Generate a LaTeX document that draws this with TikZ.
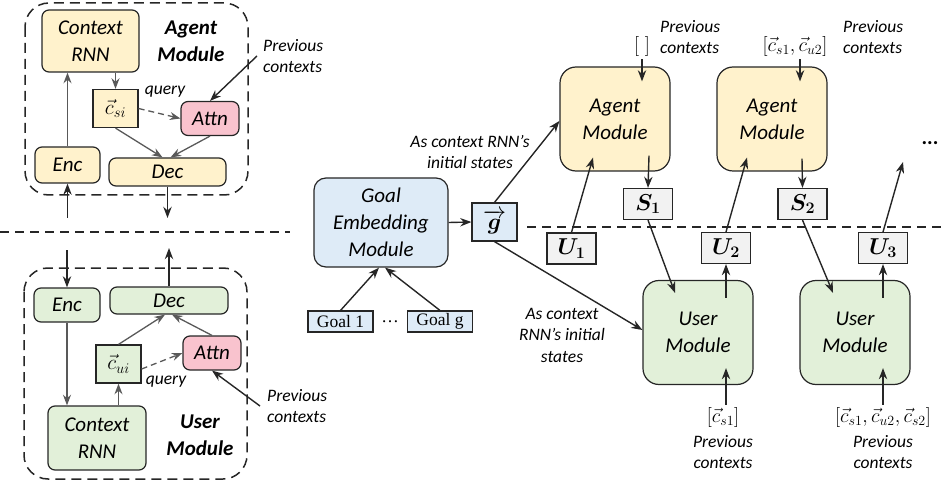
\RequirePackage{fix-cm}
\documentclass[tikz,border=0pt]{standalone}
\usepackage{amsmath,amssymb}
\usepackage{bm}
\usepackage{fontspec}
\setmainfont{Carlito}
\newfontfamily\goalfont{Liberation Serif}
\usetikzlibrary{positioning, calc, arrows.meta}

\definecolor{agentfill}{HTML}{FFF2CC}
\definecolor{userfill}{HTML}{E2F0D9}
\definecolor{goalfill}{HTML}{DEEBF7}
\definecolor{attnfill}{HTML}{F9C3CE}
\definecolor{turnfill}{HTML}{F2F2F2}
\definecolor{lineclr}{HTML}{262626}
\definecolor{innerclr}{HTML}{595959}

\newcommand{\modfont}{\fontsize{21}{27}\selectfont}
\newcommand{\turnfont}{\fontsize{23}{27}\selectfont}
\newcommand{\notefont}{\fontsize{17.5}{21.5}\selectfont}
\newcommand{\ctxfont}{\fontsize{20}{24}\selectfont}

\begin{document}
\begin{tikzpicture}[
    x=1pt, y=-1pt,
    >={Stealth[scale=1.2]},
    box/.style={draw=lineclr, line width=1.2pt, rounded corners=7pt, inner sep=0pt, font=\modfont\itshape, align=center},
    agentpart/.style={box, fill=agentfill},
    userpart/.style={box, fill=userfill},
    attnpart/.style={box, fill=attnfill, minimum width=58pt, minimum height=34pt},
    module/.style={box, rounded corners=16pt, minimum width=110pt, minimum height=104pt},
    vecbox/.style={draw=lineclr, line width=1.2pt, inner sep=0pt, minimum width=45pt, minimum height=38pt},
    turn/.style={vecbox, fill=turnfill, minimum width=49pt, minimum height=31pt, font=\turnfont},
    goalbox/.style={draw=lineclr, line width=1.1pt, fill=goalfill, inner sep=0pt, minimum width=65pt, minimum height=21pt, font=\goalfont\notefont},
    container/.style={draw=lineclr, line width=1.5pt, dash pattern=on 10pt off 6pt, rounded corners=24pt},
    divider/.style={draw=lineclr, line width=1.5pt, dash pattern=on 9pt off 6pt},
    inner/.style={->, draw=innerclr, line width=1.3pt},
    query/.style={dash pattern=on 6pt off 4pt},
    flow/.style={->, draw=lineclr, line width=1.4pt},
    note/.style={font=\notefont\itshape, align=center, inner sep=0pt},
    label/.style={font=\modfont\bfseries\itshape, align=center, inner sep=0pt},
    ctxnote/.style={font=\ctxfont, inner sep=2pt}
]
\useasboundingbox (0,0) rectangle (944,486);

% dashed separators
\draw[divider] (0,232) -- (290,232);
\draw[divider] (527,227) -- (944,227);

% agent module, inside
\draw[container] (25,3) rectangle (248,195);
\node[agentpart, minimum width=97pt, minimum height=62pt] (ctxA) at (90.5,41) {Context\\RNN};
\node[label] (agentLbl) at (191,41) {Agent\\Module};
\node[vecbox, fill=agentfill] (csi) at (115.5,108.5) {\modfont$\vec{c}_{si}$};
\node[note] (queryA) at (165,92) {query};
\node[attnpart] (attnA) at (210,118.5) {Attn};
\node[agentpart, minimum width=65pt, minimum height=36pt] (encA) at (67.5,165) {Enc};
\node[agentpart, minimum width=117pt, minimum height=28pt] (decA) at (167.5,172) {Dec};
\node[note, align=left, anchor=west] (prevA) at (263,56) {Previous\\contexts};
\coordinate (inA) at (67.5,218);
\coordinate (outA) at (167.5,218);

\draw[inner] (encA.north) -- (encA.north |- ctxA.south);
\draw[inner] (csi.north |- ctxA.south) -- (csi.north);
\draw[inner, query] (csi.east) -- (attnA.west);
\draw[inner] (csi.south) -- ([xshift=-5pt]decA.north);
\draw[inner] (attnA.south) -- ([xshift=3pt]decA.north);
\draw[flow] ([xshift=-6pt]prevA.west) -- (attnA.north);
\draw[flow] (inA) -- (encA.south);
\draw[flow] (decA.south) -- (outA);

% user module, inside
\draw[container] (24,268) rectangle (247,479);
\node[userpart, minimum width=66pt, minimum height=34pt] (encU) at (67,305) {Enc};
\node[userpart, minimum width=118pt, minimum height=27pt] (decU) at (169,300.5) {Dec};
\node[vecbox, fill=userfill] (cui) at (118.5,364) {\modfont$\vec{c}_{ui}$};
\node[note] (queryU) at (166,382) {query};
\node[attnpart] (attnU) at (212,353) {Attn};
\node[userpart, minimum width=98pt, minimum height=64pt] (ctxU) at (97,438) {Context\\RNN};
\node[label] (userLbl) at (200,435) {User\\Module};
\node[note, align=left, anchor=west] (prevU) at (267,406) {Previous\\contexts};
\coordinate (inU) at (67,250);
\coordinate (outU) at (169,248);

\draw[flow] (inU) -- (encU.north);
\draw[flow] (decU.north) -- (outU);
\draw[inner] (encU.south) -- (encU.south |- ctxU.north);
\draw[inner] (cui.south |- ctxU.north) -- (cui.south);
\draw[inner] (cui.north) -- ([xshift=-4pt]decU.south);
\draw[inner] (attnU.north) -- ([xshift=3pt]decU.south);
\draw[inner, query] ([yshift=-5pt]cui.east) -- (attnU.west);
\draw[flow] ([xshift=-7pt]prevU.west) -- (attnU.south);

% goal embedding
\node[box, fill=goalfill, rounded corners=12pt, minimum width=134pt, minimum height=89pt] (goalEmb) at (381,222.5) {Goal\\Embedding\\Module};
\node[vecbox, fill=goalfill] (gvec) at (494.5,222) {\turnfont$\overrightarrow{\bm{g}}$};
\node[goalbox] (goal1) at (340.5,321.5) {Goal 1};
\node[goalbox] (goalg) at (440,321.5) {Goal g};
\node[font=\goalfont\notefont] (gdots) at (390,322) {\dots};
\node[note] (asA) at (470,152) {As context RNN's\\initial states};
\node[note] (asU) at (562,335) {As context\\RNN's initial\\states};

\draw[flow] (goalEmb.east) -- (gvec.west);
\draw[flow] (goal1.north) -- ([xshift=-2pt]goalEmb.south);
\draw[flow] (goalg.north) -- ([xshift=4pt]goalEmb.south);

% dialogue turns
\node[module, fill=agentfill] (agent1) at (615,119) {Agent\\Module};
\node[module, fill=agentfill] (agent2) at (772,119) {Agent\\Module};
\node[module, fill=userfill] (user1) at (698,332.5) {User\\Module};
\node[module, fill=userfill] (user2) at (855,332.5) {User\\Module};
\node[turn] (s1) at (648,204) {$\bm{S_1}$};
\node[turn] (s2) at (802.5,204) {$\bm{S_2}$};
\node[turn] (u1) at (571.5,248.5) {$\bm{U_1}$};
\node[turn] (u2) at (726,248) {$\bm{U_2}$};
\node[turn] (u3) at (883,248) {$\bm{U_3}$};
\node[ctxnote] (ctx1) at (642,47) {$[\;]$};
\node[note, align=left, anchor=west] (prev1) at (660,37) {Previous\\contexts};
\node[ctxnote] (ctx2) at (795,47) {$[\vec{c}_{s1},\vec{c}_{u2}]$};
\node[note, align=left, anchor=west] (prev2) at (843,37) {Previous\\contexts};
\node[ctxnote] (ctx3) at (723,417) {$[\vec{c}_{s1}]$};
\node[note] (prev3) at (723,452) {Previous\\contexts};
\node[ctxnote] (ctx4) at (883,417) {$[\vec{c}_{s1},\vec{c}_{u2},\vec{c}_{s2}]$};
\node[note] (prev4) at (883,452) {Previous\\contexts};
\node[font=\modfont\bfseries] (more) at (930,143) {...};
\coordinate (moreIn) at (903,162);

% ends inside the modules
\coordinate (a1in) at ([xshift=27pt,yshift=-15pt]agent1.north);
\coordinate (a1out) at ([xshift=34pt,yshift=16pt]agent1.south);
\coordinate (a1u) at ([xshift=-22pt,yshift=14pt]agent1.south);
\coordinate (a2in) at ([xshift=28pt,yshift=-15pt]agent2.north);
\coordinate (a2out) at ([xshift=30pt,yshift=13pt]agent2.south);
\coordinate (a2u) at ([xshift=-25pt,yshift=14pt]agent2.south);
\coordinate (u1in) at ([xshift=28pt,yshift=17pt]user1.south);
\coordinate (u1out) at ([xshift=28pt,yshift=-18pt]user1.north);
\coordinate (u1s) at ([xshift=-23pt,yshift=-13pt]user1.north);
\coordinate (u2in) at ([xshift=28pt,yshift=17pt]user2.south);
\coordinate (u2out) at ([xshift=28pt,yshift=-18pt]user2.north);
\coordinate (u2s) at ([xshift=-22pt,yshift=-13pt]user2.north);

\draw[flow] (gvec.north) -- ([yshift=-2pt]agent1.west);
\draw[flow] (gvec.south) -- ([yshift=2.5pt]user1.west);
\draw[flow] (ctx1.south) -- (a1in);
\draw[flow] (a1out) -- (s1.north);
\draw[flow] (s1.south) -- (u1s);
\draw[flow] (u1.north) -- (a1u);
\draw[flow] (ctx2.south -| a2in) -- (a2in);
\draw[flow] (a2out) -- (s2.north);
\draw[flow] (s2.south) -- (u2s);
\draw[flow] (u2.north) -- (a2u);
\draw[flow] (ctx3.north -| u1in) -- (u1in);
\draw[flow] (u1out) -- (u2.south);
\draw[flow] (ctx4.north -| u2in) -- (u2in);
\draw[flow] (u2out) -- (u3.south);
\draw[flow] (u3.north) -- (moreIn);

\end{tikzpicture}
\end{document}
